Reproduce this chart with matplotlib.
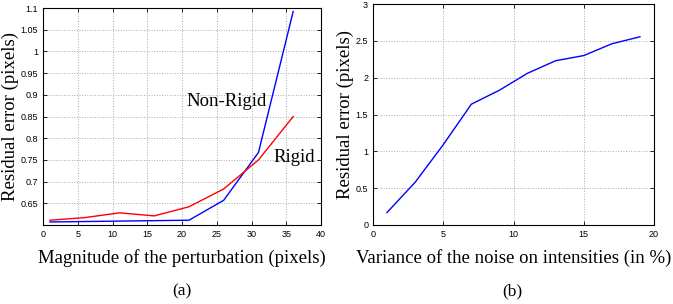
import matplotlib
matplotlib.use("Agg")
import matplotlib.pyplot as plt

# (a) residual error vs magnitude of perturbation
pert = [1, 6, 11, 16, 21, 26, 31, 36]
nonrigid = [0.607, 0.608, 0.609, 0.610, 0.611, 0.657, 0.767, 1.092]
rigid = [0.611, 0.617, 0.628, 0.621, 0.642, 0.683, 0.750, 0.850]

# (b) residual error vs noise variance
noise = [1, 3, 5, 7, 9, 11, 13, 15, 17, 19]
noise_err = [0.17, 0.58, 1.09, 1.64, 1.83, 2.06, 2.23, 2.30, 2.46, 2.555]

serif = ["Liberation Serif", "DejaVu Serif"]
tick_fs = 6.5
lab_fs = 13.5


def style(ax):
    ax.grid(True, linestyle=":", color="#aaaaaa", linewidth=0.7)
    ax.tick_params(direction="in", top=True, right=True, labelsize=tick_fs,
                   length=3, width=0.6)
    for lab in ax.get_xticklabels() + ax.get_yticklabels():
        lab.set_family("Liberation Sans")
    for s in ax.spines.values():
        s.set_linewidth(0.8)


fig = plt.figure(figsize=(6.73, 3.04), dpi=100)
ax1 = fig.add_axes([43 / 673, 1 - 225 / 304, (321 - 43) / 673, (225 - 8) / 304])
ax2 = fig.add_axes([373 / 673, 1 - 225 / 304, (654 - 373) / 673, (225 - 4) / 304])

ax1.plot(pert, nonrigid, color="blue", linewidth=1)
ax1.plot(pert, rigid, color="red", linewidth=1)
ax1.set_xlim(0, 40)
ax1.set_ylim(0.6, 1.1)
ax1.set_xticks(range(0, 41, 5))
ax1.set_yticks([0.65, 0.7, 0.75, 0.8, 0.85, 0.9, 0.95, 1, 1.05, 1.1])
ax1.set_yticklabels(["0.65", "0.7", "0.75", "0.8", "0.85", "0.9", "0.95", "1", "1.05", "1.1"])
ax1.text(20.6, 0.875, "Non-Rigid", family=serif, fontsize=13.5)
ax1.text(33.2, 0.745, "Rigid", family=serif, fontsize=13.5)
ax1.set_ylabel("Residual error (pixels)", family=serif, fontsize=lab_fs, labelpad=1)
ax1.set_xlabel("Magnitude of the perturbation (pixels)", family=serif, fontsize=lab_fs, labelpad=7)
style(ax1)

ax2.plot(noise, noise_err, color="blue", linewidth=1)
ax2.set_xlim(0, 20)
ax2.set_ylim(0, 3)
ax2.set_xticks(range(0, 21, 5))
ax2.set_yticks([0, 0.5, 1, 1.5, 2, 2.5, 3])
ax2.set_yticklabels(["0", "0.5", "1", "1.5", "2", "2.5", "3"])
ax2.set_ylabel("Residual error (pixels)", family=serif, fontsize=lab_fs, labelpad=1)
ax2.set_xlabel("Variance of the noise on intensities (in %)", family=serif, fontsize=lab_fs, labelpad=7)
style(ax2)

fig.text(182 / 673, 1 - 291 / 304, "(a)", family=serif, fontsize=12.5, ha="center", va="center")
fig.text(512 / 673, 1 - 291 / 304, "(b)", family=serif, fontsize=12.5, ha="center", va="center")

fig.savefig("out.png", dpi=100)
